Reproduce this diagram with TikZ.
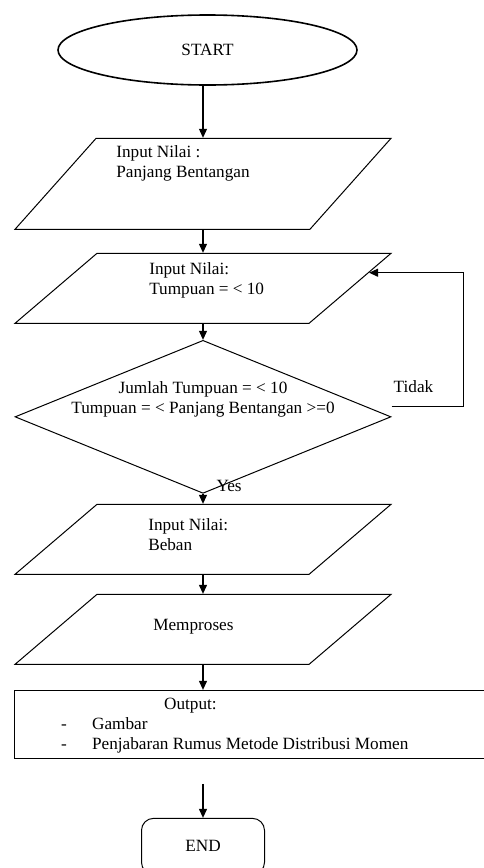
\documentclass[tikz,border=0pt]{standalone}
\usepackage{fontspec}
\setmainfont{Liberation Serif}
\usetikzlibrary{arrows.meta, positioning, shapes.geometric, calc}

\begin{document}
\begin{tikzpicture}[
    x=1pt, y=1pt,
    font=\fontsize{17.2}{20}\selectfont,
    line width=1pt,
    startstop/.style={
        draw,
        ellipse,
        line width=1.6pt,
        minimum width=299pt,
        minimum height=70pt
    },
    io/.style={
        draw,
        trapezium,
        trapezium left angle=40.5,
        trapezium right angle=139.5,
        trapezium stretches body=true,
        inner sep=0pt,
        text height=70pt,
        text depth=0pt,
        minimum width=376pt,
        minimum height=70pt
    },
    decision/.style={
        draw,
        diamond,
        inner sep=0pt,
        minimum width=376pt,
        minimum height=153pt
    },
    outbox/.style={
        draw,
        rectangle,
        minimum width=485pt,
        minimum height=68pt
    },
    endbox/.style={
        draw,
        rectangle,
        rounded corners=12pt,
        minimum width=123pt,
        minimum height=56pt
    },
    txt/.style={
        inner sep=0pt,
        align=left
    },
    arrow/.style={
        -{Triangle[length=9pt, width=8pt]},
        line width=1.1pt
    }
]
\useasboundingbox (0,0) rectangle (484,-868);
\clip (0,0) rectangle (484,-868);

% Start
\node[startstop] (start) at (207.5,-50) {START};

% Input panjang bentangan
\node[io, below=52pt of start, xshift=-4.5pt, text height=91pt, minimum height=91pt,
      trapezium left angle=48.3, trapezium right angle=131.7] (panjang) {};
\node[txt, anchor=base west] (panjangtxt) at ([xshift=20pt, yshift=-40pt]panjang.top left corner)
    {Input Nilai :\\Panjang Bentangan};
\draw[arrow] (start.south -| panjang) -- (panjang);

% Input tumpuan
\node[io, below=23pt of panjang] (tumpuan) {};
\node[txt, anchor=base west] (tumpuantxt) at ([xshift=52pt, yshift=-42pt]tumpuan.top left corner)
    {Input Nilai:\\Tumpuan = < 10};
\draw[arrow] (panjang) -- (tumpuan);

% Cek tumpuan
\node[decision, below=16pt of tumpuan] (cek) {};
\node[txt, align=center, anchor=base] (cektxt) at ([yshift=-74pt]cek.north)
    {Jumlah Tumpuan = < 10\\Tumpuan = < Panjang Bentangan >=0};
\draw[arrow] (tumpuan) -- (cek);
\draw[arrow] ([yshift=10pt]cek.east) -- node[txt, above=14pt, xshift=-14pt] (tidak) {Tidak} ++(72pt,0)
    |- ($(tumpuan.top right corner)!0.28!(tumpuan.bottom right corner)$);

% Input beban
\node[io, below=10pt of cek] (beban) {};
\node[txt, anchor=base west] (bebantxt) at ([xshift=51pt, yshift=-47pt]beban.top left corner)
    {Input Nilai:\\Beban};
\draw[arrow] (cek) -- node[txt, pos=0, anchor=base west, xshift=13pt, yshift=2pt] (yes) {Yes} (beban);

% Proses
\node[io, below=19pt of beban] (memproses) {};
\node[txt, anchor=base west] (memprosestxt) at ([xshift=56pt, yshift=-37pt]memproses.top left corner)
    {Memproses};
\draw[arrow] (beban) -- (memproses);

% Output
\node[outbox, below=25pt of memproses.bottom left corner, anchor=north west] (output) {};
\node[txt, anchor=base west] (outputtxt) at ([xshift=47pt, yshift=-60pt]output.north west)
    {\hspace*{103pt}Output:\\\makebox[31pt][l]{-}Gambar\\\makebox[31pt][l]{-}Penjabaran Rumus Metode Distribusi Momen};
\draw[arrow] (memproses) -- (memproses |- output.north);

% End
\path (output.south -| memproses) ++(0,-25) coordinate (gap);
\node[endbox, below=34pt of gap] (end) {END};
\draw[arrow] (gap) -- (end);

\end{tikzpicture}
\end{document}
